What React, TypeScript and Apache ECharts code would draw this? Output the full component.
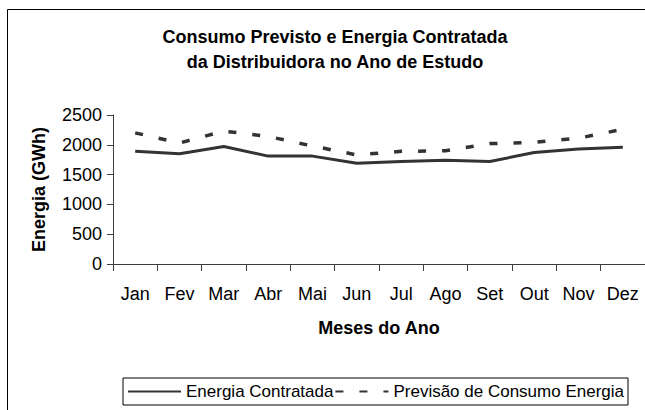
import React, { useEffect, useRef } from "react";
import * as echarts from "echarts";

const months = ["Jan", "Fev", "Mar", "Abr", "Mai", "Jun", "Jul", "Ago", "Set", "Out", "Nov", "Dez"];
const energiaContratada = [1890, 1850, 1970, 1810, 1810, 1690, 1720, 1740, 1720, 1870, 1930, 1960];
const previsaoConsumo = [2200, 2030, 2230, 2140, 1980, 1830, 1890, 1900, 2020, 2040, 2110, 2260];
const seriesNames = ["Energia Contratada", "Previsão de Consumo Energia"];
const titleText = "Consumo Previsto e Energia Contratada\nda Distribuidora no Ano de Estudo";
const xAxisName = "Meses do Ano";
const yAxisName = "Energia (GWh)";

const FONT = "Arial, 'Liberation Sans', sans-serif";

export default function App() {
  const ref = useRef<HTMLDivElement>(null);
  useEffect(() => {
    if (!ref.current) return;
    const chart = echarts.init(ref.current, null, { renderer: "svg" });
    chart.setOption({
      animation: false,
      backgroundColor: "#ffffff",
      textStyle: { fontFamily: FONT, color: "#000" },
      graphic: [
        {
          type: "rect",
          shape: { x: 7.5, y: 9.5, width: 700, height: 500 },
          style: { fill: "none", stroke: "#000", lineWidth: 1 },
          silent: true,
        },
      ],
      title: {
        text: titleText,
        left: 330,
        textAlign: "center",
        top: 19,
        textStyle: { fontFamily: FONT, fontSize: 18, fontWeight: "bold", color: "#000", lineHeight: 25 },
      },
      legend: {
        left: 123,
        top: 378,
        orient: "horizontal",
        data: seriesNames,
        itemWidth: 53,
        itemHeight: 14,
        itemGap: 1,
        padding: [5, 4, 5, 4],
        borderColor: "#000",
        borderWidth: 1,
        itemStyle: { opacity: 0 },
        textStyle: { fontFamily: FONT, fontSize: 17, color: "#000" },
      },
      grid: { left: 113, top: 115, width: 535, height: 149, containLabel: false },
      xAxis: {
        type: "category",
        data: months,
        boundaryGap: true,
        name: xAxisName,
        nameLocation: "middle",
        nameGap: 55,
        nameTextStyle: { fontFamily: FONT, fontSize: 18, fontWeight: "bold", color: "#000" },
        axisLine: { show: true, lineStyle: { color: "#404040", width: 1 } },
        axisTick: { show: true, length: 7, interval: 0, lineStyle: { color: "#404040" } },
        axisLabel: { interval: 0, margin: 21, fontFamily: FONT, fontSize: 18, color: "#000" },
        splitLine: { show: false },
      },
      yAxis: {
        type: "value",
        min: 0,
        max: 2500,
        interval: 500,
        name: yAxisName,
        nameLocation: "middle",
        nameGap: 65,
        nameTextStyle: { fontFamily: FONT, fontSize: 18, fontWeight: "bold", color: "#000" },
        axisLine: { show: true, lineStyle: { color: "#404040", width: 1 } },
        axisTick: { show: true, length: 6, lineStyle: { color: "#404040" } },
        axisLabel: {
          margin: 11,
          fontFamily: FONT,
          fontSize: 18,
          color: "#000",
          formatter: (v: number) => String(v),
        },
        splitLine: { show: false },
      },
      series: [
        {
          name: seriesNames[0],
          type: "line",
          data: energiaContratada,
          symbol: "none",
          lineStyle: { color: "#333333", width: 3, type: "solid" },
          itemStyle: { color: "#333333" },
        },
        {
          name: seriesNames[1],
          type: "line",
          data: previsaoConsumo,
          symbol: "none",
          lineStyle: { color: "#333333", width: 3.5, type: [8, 16] },
          itemStyle: { color: "#333333" },
        },
      ],
    });
    return () => chart.dispose();
  }, []);
  return (
    <div
      ref={ref}
      style={{ position: "fixed", left: 0, top: 0, width: 645, height: 410 }}
    />
  );
}
